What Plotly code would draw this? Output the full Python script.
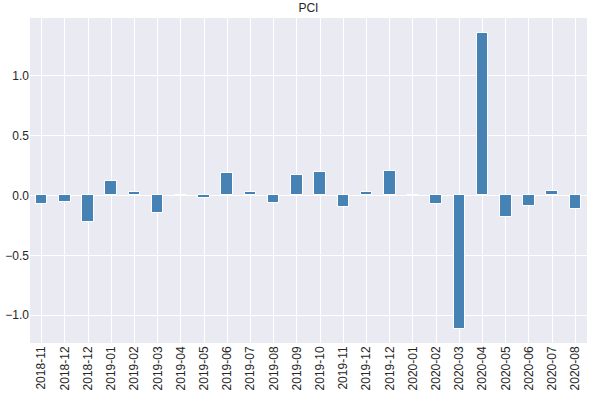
import plotly.graph_objects as go

categories = ["2018-11", "2018-12", "2018-12", "2019-01", "2019-02", "2019-03",
              "2019-04", "2019-05", "2019-06", "2019-07", "2019-08", "2019-09",
              "2019-10", "2019-11", "2019-12", "2019-12", "2020-01", "2020-02",
              "2020-03", "2020-04", "2020-05", "2020-06", "2020-07", "2020-08"]
pci_values = [-0.073, -0.058, -0.22, 0.12, 0.03, -0.148,
              0.006, -0.023, 0.19, 0.03, -0.064, 0.17,
              0.197, -0.098, 0.03, 0.205, -0.008, -0.073,
              -1.114, 1.355, -0.18, -0.092, 0.04, -0.115]
y_ticks = [-1.0, -0.5, 0.0, 0.5, 1.0]
y_tick_text = ["\u22121.0", "\u22120.5", "0.0", "0.5", "1.0"]

x_idx = list(range(len(categories)))

fig = go.Figure(go.Bar(
    x=x_idx,
    y=pci_values,
    width=0.5,
    marker=dict(color="#4682B4", line=dict(color="white", width=1)),
))

fig.update_layout(
    width=600, height=394,
    margin=dict(l=30, r=13, t=18, b=51),
    paper_bgcolor="white",
    plot_bgcolor="#EAEAF2",
    font=dict(family="Liberation Sans, Arial, sans-serif", size=12, color="#262626"),
    title=dict(text="PCI", x=0.514, xanchor="center", y=1 - 8 / 394, yanchor="middle",
               yref="container", font=dict(size=12, color="#262626")),
    showlegend=False,
    bargap=0,
)
fig.update_xaxes(
    tickmode="array", tickvals=x_idx, ticktext=categories,
    tickangle=-90, range=[-0.5, 23.5],
    showgrid=True, gridcolor="white", gridwidth=1,
    zeroline=False, showline=False, ticks="", automargin=False,
    tickfont=dict(size=12),
)
fig.update_yaxes(
    tickmode="array", tickvals=y_ticks, ticktext=y_tick_text,
    range=[-1.231, 1.478],
    showgrid=True, gridcolor="white", gridwidth=1,
    zeroline=True, zerolinecolor="white", zerolinewidth=1,
    showline=False, ticks="", automargin=False,
    tickfont=dict(size=12),
)

fig.write_html("out.html",
               config={"displayModeBar": False},
               post_script="document.body.style.margin='0';document.body.style.overflow='hidden';")
